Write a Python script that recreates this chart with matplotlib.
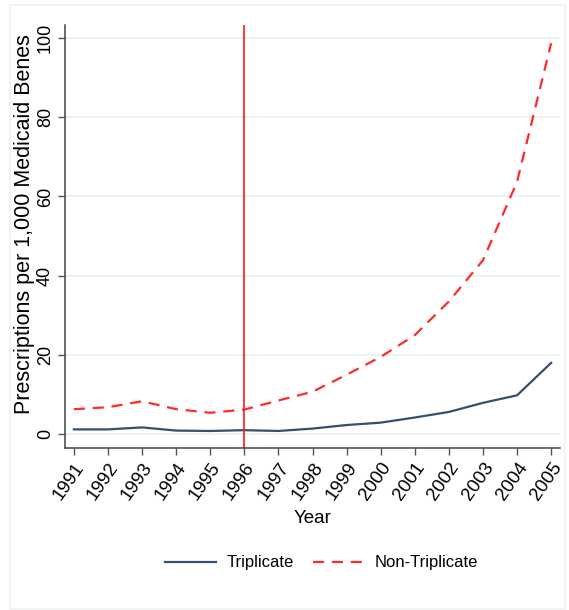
import matplotlib

matplotlib.use('Agg')
from matplotlib import pyplot as plt
from matplotlib.patches import Rectangle

years = list(range(1991, 2006))
triplicate = [1.2, 1.2, 1.7, 0.9, 0.8, 1.0, 0.8, 1.4, 2.3, 2.9, 4.2, 5.6, 7.9, 9.8, 18.0]
non_triplicate = [6.3, 6.8, 8.3, 6.3, 5.4, 6.2, 8.5, 10.7, 15.0, 19.5, 25.0, 33.5, 43.9, 63.7, 98.7]
policy_year = 1996
y_ticks = [0, 20, 40, 60, 80, 100]

plt.rcParams['font.family'] = ['Liberation Sans', 'DejaVu Sans']

fig = plt.figure(figsize=(5.69, 6.10), dpi=100)
ax = fig.add_axes([65 / 569, 1 - 448 / 610, (560 - 65) / 569, (448 - 25) / 610])

# light outer frame around the whole graph
fig.patches.append(Rectangle((10 / 569, 1 / 610), 555 / 569, 604 / 610, transform=fig.transFigure,
                             fill=False, edgecolor='#eef2f4', linewidth=1.2))

for t in y_ticks:
    ax.axhline(t, color='#e8f0f2', linewidth=1.2, zorder=0)

ax.plot(years, triplicate, color='#33506e', linewidth=1.6, label='Triplicate')
ax.plot(years, non_triplicate, color='#ff2a2a', linewidth=1.6, dashes=(5, 3.5), label='Non-Triplicate')
ax.axvline(policy_year, color='#ff1a1a', linewidth=1.2)

ax.set_xlim(1990.74, 2005.26)
ax.set_ylim(-3.5, 103.3)
ax.set_xticks(years)
ax.set_xticklabels([str(y) for y in years], rotation=55, ha='right', va='top',
                   rotation_mode='anchor', fontsize=13.5)
ax.set_yticks(y_ticks)
ax.set_yticklabels([str(t) for t in y_ticks], rotation=90, ha='center', va='bottom',
                   rotation_mode='anchor', fontsize=13)
ax.tick_params(axis='both', direction='out', length=5, width=1, color='#555555')
ax.tick_params(axis='y', pad=3)
ax.tick_params(axis='x', pad=3)

for side in ['top', 'right']:
    ax.spines[side].set_visible(False)
for side in ['left', 'bottom']:
    ax.spines[side].set_color('#444444')
    ax.spines[side].set_linewidth(1.1)

ax.set_xlabel('Year', fontsize=13.5, labelpad=5)
ax.set_ylabel('Prescriptions per 1,000 Medicaid Benes', fontsize=15.5, va='bottom')
# put the y label just left of the tick labels
ax.yaxis.set_label_coords(-30 / 495, 0.53)

fig.legend(loc='center', bbox_to_anchor=(0.565, 1 - 563 / 610), ncol=2, frameon=False,
           fontsize=12, handlelength=3.1, columnspacing=1.2, handletextpad=0.6)

plt.savefig('out.png', dpi=100, facecolor='white')
